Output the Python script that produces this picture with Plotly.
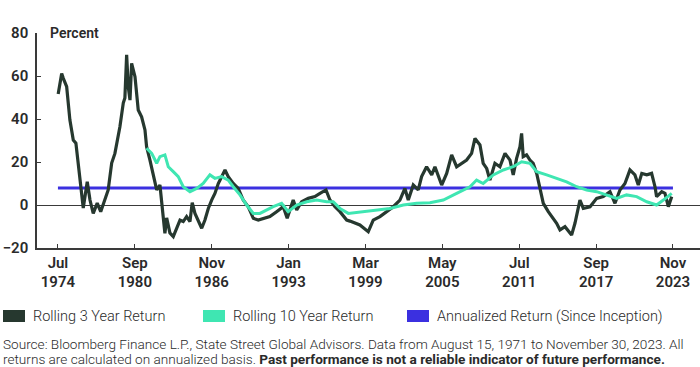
import plotly.graph_objects as go

# ---- data (decimal years, percent) ----
r3_years = [1974.52, 1974.80, 1974.93, 1975.20, 1975.46, 1975.73, 1975.94, 1976.26, 1976.53, 1976.85,
            1977.07, 1977.33, 1977.65, 1977.93, 1978.27, 1978.53, 1978.81, 1979.07, 1979.47, 1979.74,
            1979.87, 1980.01, 1980.14, 1980.28, 1980.41, 1980.68, 1980.94, 1981.21, 1981.48, 1981.61,
            1981.88, 1982.14, 1982.42, 1982.68, 1982.95, 1983.08, 1983.22, 1983.48, 1983.75, 1984.02,
            1984.29, 1984.55, 1984.82, 1985.09, 1985.27, 1985.49, 1985.75, 1986.03, 1986.29, 1986.56,
            1986.83, 1987.09, 1987.36, 1987.63, 1987.90, 1988.16, 1988.56, 1988.96, 1989.36, 1989.76,
            1990.17, 1990.57, 1990.97, 1991.50, 1992.04, 1992.57, 1992.89, 1993.37, 1993.65, 1994.05,
            1994.58, 1995.11, 1995.52, 1996.00, 1996.32, 1996.72, 1997.12, 1997.66, 1997.92, 1998.72,
            1999.39, 1999.79, 2000.33, 2000.87, 2001.40, 2001.93, 2002.33, 2002.60, 2003.00, 2003.40,
            2003.67, 2004.07, 2004.48, 2004.74, 2005.00, 2005.28, 2005.68, 2006.08, 2006.48, 2006.88,
            2007.28, 2007.68, 2007.95, 2008.35, 2008.61, 2008.89, 2009.15, 2009.55, 2009.95, 2010.36,
            2010.76, 2011.02, 2011.29, 2011.56, 2011.69, 2011.82, 2012.09, 2012.36, 2012.62, 2012.90,
            2013.16, 2013.43, 2013.83, 2014.10, 2014.50, 2014.77, 2015.17, 2015.70, 2015.97, 2016.37,
            2016.64, 2017.18, 2017.71, 2018.24, 2018.78, 2019.18, 2019.58, 2019.98, 2020.38, 2020.78,
            2021.05, 2021.33, 2021.73, 2022.12, 2022.39, 2022.52, 2022.93, 2023.19, 2023.46, 2023.73]
r3_values = [51.6, 61.2, 58.9, 55.0, 39.5, 30.2, 28.8, 11.6, -1.4, 10.8,
             2.3, -3.9, 0.9, -3.1, 2.3, 7.0, 19.5, 24.0, 36.4, 47.4,
             49.8, 69.8, 55.0, 48.8, 65.9, 59.7, 44.2, 41.0, 34.9, 27.1,
             20.9, 14.7, 7.0, 9.3, -3.9, -13.2, -6.0, -13.0, -14.7, -10.8,
             -7.0, -7.7, -5.4, -7.7, 1.1, -3.9, -7.7, -10.8, -7.0, -1.6,
             2.3, 5.4, 10.0, 13.2, 16.3, 13.2, 10.0, 7.7, 2.3, -0.8,
             -6.2, -7.0, -6.2, -5.4, -3.1, -0.8, -6.2, 2.3, -2.3, 1.5,
             3.1, 3.9, 5.4, 7.0, 2.3, -0.8, -3.1, -7.0, -7.5, -9.3,
             -12.4, -7.0, -5.4, -3.1, -0.8, 2.3, 7.7, 2.3, 9.3, 7.0,
             13.2, 17.8, 14.0, 17.8, 14.0, 9.3, 14.7, 23.3, 17.8, 19.4,
             20.9, 24.0, 31.0, 27.9, 19.4, 17.0, 11.6, 19.4, 17.8, 24.0,
             20.9, 14.0, 21.7, 27.1, 33.3, 22.5, 23.3, 20.9, 19.4, 14.7,
             8.5, 0.8, -3.1, -5.4, -8.5, -11.6, -10.1, -14.0, -8.5, 2.3,
             -1.6, -0.8, 3.1, 3.9, 6.2, 0.8, 7.0, 10.0, 16.3, 14.0,
             9.3, 14.7, 14.0, 14.7, 8.5, 3.9, 6.2, 5.4, -0.8, 3.9]

r10_years = [1981.61, 1982.02, 1982.42, 1982.68, 1983.08, 1983.35, 1983.75, 1984.15, 1984.55, 1985.09,
             1985.63, 1986.15, 1986.69, 1987.09, 1987.63, 1988.16, 1988.56, 1989.10, 1989.64, 1990.17,
             1990.70, 1991.24, 1991.77, 1992.44, 1992.97, 1993.65, 1994.45, 1995.25, 1996.05, 1996.58,
             1997.12, 1997.79, 1998.99, 2000.06, 2001.13, 2002.20, 2003.27, 2004.34, 2005.41, 2006.48,
             2007.55, 2008.08, 2008.61, 2009.42, 2010.22, 2011.02, 2011.69, 2012.36, 2012.90, 2013.70,
             2014.50, 2015.30, 2016.11, 2016.91, 2017.71, 2018.51, 2019.31, 2020.11, 2020.92, 2021.73,
             2022.52, 2023.06, 2023.73]
r10_values = [26.4, 24.0, 19.4, 22.5, 23.3, 17.8, 15.5, 13.2, 8.5, 6.2,
              7.7, 10.0, 14.0, 12.4, 13.2, 11.6, 8.5, 4.7, 0.0, -3.9,
              -3.9, -2.3, -0.8, 0.8, -3.1, 0.0, 1.5, 2.3, 1.5, 1.5,
              -1.6, -3.9, -3.1, -2.3, -1.6, 0.0, 0.8, 1.1, 2.3, 5.4,
              8.5, 11.6, 10.0, 14.0, 16.3, 17.8, 20.1, 19.4, 15.5, 14.0,
              12.4, 10.8, 8.5, 7.0, 6.2, 4.7, 3.1, 4.7, 3.9, 1.5,
              0.0, 2.3, 5.4]

ann_years = [1974.5, 2023.83]
ann_values = [7.9, 7.9]

tick_vals = [1974.5, 1980.67, 1986.83, 1993.0, 1999.17, 2005.33, 2011.5, 2017.67, 2023.83]
tick_text = ["Jul<br>1974", "Sep<br>1980", "Nov<br>1986", "Jan<br>1993", "Mar<br>1999",
             "May<br>2005", "Jul<br>2011", "Sep<br>2017", "Nov<br>2023"]
y_ticks = [-20, 0, 20, 40, 60, 80]

series_names = ["Rolling 3 Year Return", "Rolling 10 Year Return", "Annualized Return (Since Inception)"]
C_DARK = "#26382f"
C_GREEN = "#3fe6b2"
C_BLUE = "#3b30e0"
TXT = "#2a2a2a"

fig = go.Figure()
fig.add_trace(go.Scatter(x=ann_years, y=ann_values, mode="lines", line=dict(color=C_BLUE, width=3),
                         name=series_names[2], showlegend=False))
fig.add_trace(go.Scatter(x=r3_years, y=r3_values, mode="lines", line=dict(color=C_DARK, width=3.2),
                         name=series_names[0], showlegend=False))
fig.add_trace(go.Scatter(x=r10_years, y=r10_values, mode="lines", line=dict(color=C_GREEN, width=3),
                         name=series_names[1], showlegend=False))

fig.update_layout(
    width=700, height=367,
    margin=dict(l=37, r=0, t=33, b=119),
    plot_bgcolor="white", paper_bgcolor="white",
    font=dict(family="Roboto", color=TXT),
)
fig.update_xaxes(range=[1972.82, 2026.0], tickvals=tick_vals, ticktext=tick_text,
                 showgrid=False, showline=True, linecolor="#3a3a3a", linewidth=1.5,
                 ticks="inside", ticklen=4, tickcolor="#3a3a3a",
                 tickfont=dict(family="Roboto", size=15, weight=600, color=TXT), zeroline=False)
fig.update_yaxes(range=[-20, 80], tickvals=y_ticks, showgrid=False, showline=True,
                 linecolor="#3a3a3a", linewidth=1.5, ticks="inside", ticklen=4, tickcolor="#3a3a3a",
                 tickfont=dict(family="Roboto", size=15, weight=600, color=TXT),
                 zeroline=True, zerolinecolor="#3a3a3a", zerolinewidth=1, ticklabelstandoff=4)

fig.add_annotation(xref="paper", yref="paper", x=0.016, y=1.0, text="Percent", showarrow=False,
                   xanchor="left", yanchor="middle", font=dict(family="Roboto", size=14, weight=600, color=TXT))

# legend drawn manually
leg_colors = [C_DARK, C_GREEN, C_BLUE]
leg_x = [3, 203, 407]
for i in range(3):
    x0 = (leg_x[i] - 37) / 663
    fig.add_shape(type="rect", xref="paper", yref="paper",
                  x0=x0, x1=x0 + 22 / 663, y0=(248 - 322) / 215, y1=(248 - 310) / 215,
                  fillcolor=leg_colors[i], line=dict(width=0))
    fig.add_annotation(xref="paper", yref="paper", x=x0 + 28 / 663, y=(248 - 316) / 215,
                       text=series_names[i], showarrow=False, xanchor="left", yanchor="middle",
                       font=dict(family="Roboto", size=14.5, weight=300, color=TXT))

src1 = "Source: Bloomberg Finance L.P., State Street Global Advisors. Data from August 15, 1971 to November 30, 2023. All"
src2 = "returns are calculated on annualized basis. <b>Past performance is not a reliable indicator of future performance.</b>"
for txt, yy in [(src1, 344), (src2, 359)]:
    fig.add_annotation(xref="paper", yref="paper", x=(1 - 37) / 663, y=(248 - yy) / 215, text=txt,
                       showarrow=False, xanchor="left", yanchor="middle",
                       font=dict(family="Roboto", size=13.6, weight=300, color=TXT))

fig.write_html("out.html", config={"displayModeBar": False},
               post_script="document.body.style.margin='0';document.body.style.padding='0';")
